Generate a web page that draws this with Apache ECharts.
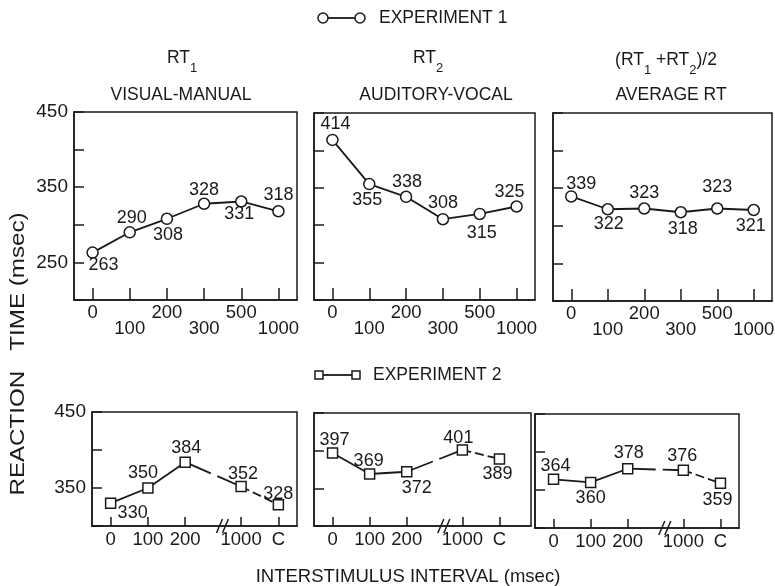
<!DOCTYPE html>
<html><head><meta charset="utf-8">
<script src="https://cdn.jsdelivr.net/npm/echarts@6/dist/echarts.min.js"></script>
<style>html,body{margin:0;padding:0;background:#fff}#c{width:775px;height:586px}</style>
</head><body><div id="c"></div>
<script>
// ---------- data ----------
const exp1Categories = ['0', '100', '200', '300', '500', '1000'];
const exp1RT1 = [263, 290, 308, 328, 331, 318];
const exp1RT2 = [414, 355, 338, 308, 315, 325];
const exp1Avg = [339, 322, 323, 318, 323, 321];

const exp2Categories = ['0', '100', '200', '1000', 'C'];
const exp2RT1 = [330, 350, 384, 352, 328];
const exp2RT2 = [397, 369, 372, 401, 389];
const exp2Avg = [364, 360, 378, 376, 359];

const exp1YLabels = [250, 350, 450];
const exp2YLabels = [350, 450];

// ---------- style / layout ----------
const INK = '#1a1a1a';
const FONT = '"Liberation Sans", Arial, sans-serif';
const BREAK_AFTER = 2, BREAK_GAP = 0.5, BREAK_MARK_X = 3.0;

const topGrids = [
  {left: 74, top: 112, width: 223, height: 188},
  {left: 314, top: 113, width: 221, height: 187},
  {left: 553, top: 113, width: 219, height: 188}
];
const botGrids = [
  {left: 92, top: 412, width: 205, height: 114, xmax: 5},
  {left: 314, top: 413, width: 217, height: 113, xmax: 5.35},
  {left: 535, top: 414, width: 204, height: 114, xmax: 5}
];
const topOffsets = [
  [[11,12],[2,-14],[1,16],[0,-14],[-2,13],[0,-16]],
  [[3,-16],[-2,16],[1,-15],[0,-16],[2,19],[-7,-14]],
  [[10,-12],[1,15],[0,-15],[2,17],[0,-21],[-3,16]]
];
const botOffsets = [
  [[22,10],[-5,-15],[1,-14],[2,-12],[0,-11]],
  [[2,-13],[-1,-13],[10,16],[-4,-12],[-2,15]],
  [[2,-13],[0,16],[1,-16],[-1,-14],[-3,17]]
];

const axisLineStyle = {color: INK, width: 1.5};
const exp2X = exp2Categories.map((c, i) => i + (i > BREAK_AFTER ? BREAK_GAP : 0));
const exp1X = exp1Categories.map((c, i) => i);

const grids = [], xAxes = [], yAxes = [], series = [];

topGrids.forEach((g, gi) => {
  grids.push({left: g.left, top: g.top, width: g.width, height: g.height, show: true,
    borderColor: INK, borderWidth: 1.5, backgroundColor: 'transparent', outerBoundsMode: 'none'});
  xAxes.push({gridIndex: gi, type: 'value', min: -0.5, max: exp1Categories.length - 0.5,
    axisLine: {show: true, onZero: false, lineStyle: axisLineStyle}, splitLine: {show: false},
    axisTick: {show: true, inside: true, length: 12, customValues: exp1X, lineStyle: axisLineStyle},
    axisLabel: {customValues: exp1X, formatter: v => (v % 2 ? '\n' : '') + exp1Categories[v],
      showMaxLabel: true, showMinLabel: true, hideOverlap: false,
      fontSize: 18.5, lineHeight: 16, margin: 5, color: INK, fontFamily: FONT}});
  yAxes.push({gridIndex: gi, type: 'value', min: 200, max: 450, interval: 50,
    axisLine: {show: true, onZero: false, lineStyle: axisLineStyle}, splitLine: {show: false},
    axisTick: {show: true, inside: true, length: 10, lineStyle: axisLineStyle},
    axisLabel: {show: gi === 0, formatter: v => exp1YLabels.includes(v) ? String(v) : '',
      fontSize: 19, margin: 6, color: INK, fontFamily: FONT}});
});
botGrids.forEach((g, k) => {
  const gi = k + 3;
  grids.push({left: g.left, top: g.top, width: g.width, height: g.height, show: true,
    borderColor: INK, borderWidth: 1.5, backgroundColor: 'transparent', outerBoundsMode: 'none'});
  xAxes.push({gridIndex: gi, type: 'value', min: -0.5, max: g.xmax,
    axisLine: {show: true, onZero: false, lineStyle: axisLineStyle}, splitLine: {show: false},
    axisTick: {show: true, inside: true, length: 9, customValues: exp2X, lineStyle: axisLineStyle},
    axisLabel: {customValues: exp2X, formatter: v => exp2Categories[exp2X.indexOf(v)],
      showMaxLabel: true, showMinLabel: true, hideOverlap: false,
      fontSize: 18.5, lineHeight: 16, margin: 6, color: INK, fontFamily: FONT}});
  yAxes.push({gridIndex: gi, type: 'value', min: 300, max: 450, interval: 50,
    axisLine: {show: true, onZero: false, lineStyle: axisLineStyle}, splitLine: {show: false},
    axisTick: {show: true, inside: true, length: 10, lineStyle: axisLineStyle},
    axisLabel: {show: k === 0, formatter: v => exp2YLabels.includes(v) ? String(v) : '',
      fontSize: 19, margin: 6, color: INK, fontFamily: FONT}});
});

const labelBase = {show: true, position: 'inside', color: INK, fontSize: 18, fontFamily: FONT,
  formatter: p => String(p.value[1])};

[exp1RT1, exp1RT2, exp1Avg].forEach((vals, gi) => {
  series.push({type: 'line', xAxisIndex: gi, yAxisIndex: gi, z: 3,
    data: vals.map((v, i) => ({value: [exp1X[i], v], label: {offset: topOffsets[gi][i]}})),
    symbol: 'circle', symbolSize: 11,
    itemStyle: {color: '#fff', borderColor: INK, borderWidth: 1.5},
    lineStyle: {color: INK, width: 1.8}, label: labelBase,
    emphasis: {disabled: true}, animation: false});
});

const segments = [[0, 2, 'solid'], [2, 3, [28, 7]], [3, 4, [9, 4]]];
[exp2RT1, exp2RT2, exp2Avg].forEach((vals, k) => {
  const gi = k + 3;
  segments.forEach(([a, b, type]) => {
    series.push({type: 'line', xAxisIndex: gi, yAxisIndex: gi, z: 2, symbol: 'none',
      data: vals.slice(a, b + 1).map((v, j) => [exp2X[a + j], v]),
      lineStyle: {color: INK, width: 1.8, type: type}, silent: true, animation: false});
  });
  series.push({type: 'line', xAxisIndex: gi, yAxisIndex: gi, z: 4,
    data: vals.map((v, i) => ({value: [exp2X[i], v], label: {offset: botOffsets[k][i]}})),
    symbol: 'rect', symbolSize: 10,
    itemStyle: {color: '#fff', borderColor: INK, borderWidth: 1.5},
    lineStyle: {opacity: 0}, label: labelBase,
    emphasis: {disabled: true}, animation: false});
});

const txt = (id, x, y, text, size, align, extra) => Object.assign({id, type: 'text', x, y,
  style: {text, fontSize: size, fontFamily: FONT, fill: INK, align: align || 'center', verticalAlign: 'middle'}}, extra || {});
const rich = {
  m: {fontSize: 17.5, fontFamily: FONT, color: INK},
  s: {fontSize: 13, fontFamily: FONT, color: INK, padding: [20, 0, 0, 0]}
};
const richTxt = (id, x, y, text) => ({id, type: 'text', x, y,
  style: {text, rich, fill: INK, align: 'center', verticalAlign: 'middle'}});

const graphics = [
  {id: 'l1line', type: 'line', shape: {x1: 328, y1: 18, x2: 355, y2: 18}, style: {stroke: INK, lineWidth: 1.8}},
  {id: 'l1c1', type: 'circle', shape: {cx: 323, cy: 18, r: 5}, style: {fill: '#fff', stroke: INK, lineWidth: 1.5}},
  {id: 'l1c2', type: 'circle', shape: {cx: 360, cy: 18, r: 5}, style: {fill: '#fff', stroke: INK, lineWidth: 1.5}},
  txt('l1t', 379, 18, 'EXPERIMENT 1', 17.5, 'left'),
  {id: 'l2line', type: 'line', shape: {x1: 323, y1: 375, x2: 352, y2: 375}, style: {stroke: INK, lineWidth: 1.8}},
  {id: 'l2r1', type: 'rect', shape: {x: 315, y: 371, width: 8, height: 8}, style: {fill: '#fff', stroke: INK, lineWidth: 1.5}},
  {id: 'l2r2', type: 'rect', shape: {x: 352, y: 371, width: 8, height: 8}, style: {fill: '#fff', stroke: INK, lineWidth: 1.5}},
  txt('l2t', 373, 375, 'EXPERIMENT 2', 17.5, 'left'),
  richTxt('t1a', 182, 58, '{m|RT}{s|1}'),
  txt('t1b', 181, 95, 'VISUAL-MANUAL', 17.5),
  richTxt('t2a', 428, 58, '{m|RT}{s|2}'),
  txt('t2b', 436, 95, 'AUDITORY-VOCAL', 17.5),
  richTxt('t3a', 666, 60, '{m|(RT}{s|1}{m| +RT}{s|2}{m|)/2}'),
  txt('t3b', 671, 95, 'AVERAGE RT', 17.5),
  txt('ytitle', 18, 354, 'REACTION   TIME (msec)', 21, 'center', {rotation: Math.PI / 2, scaleX: 1.15}),
  txt('xtitle', 408, 577, 'INTERSTIMULUS INTERVAL (msec)', 18.5)
];

const chart = echarts.init(document.getElementById('c'), null, {renderer: 'canvas'});
chart.setOption({backgroundColor: '#fff', animation: false, grid: grids, xAxis: xAxes, yAxis: yAxes,
  series, graphic: graphics});

// axis-break marks "//" on the bottom axes
const marks = [];
[3, 4, 5].forEach(gi => {
  const p = chart.convertToPixel({gridIndex: gi}, [BREAK_MARK_X, 300]);
  [-3, 3].forEach((dx, j) => marks.push({id: 'brk' + gi + '_' + j, type: 'line',
    shape: {x1: p[0] + dx - 3, y1: p[1] + 7, x2: p[0] + dx + 3, y2: p[1] - 7},
    style: {stroke: INK, lineWidth: 1.5}, z: 10}));
});
chart.setOption({graphic: marks});
</script></body></html>
